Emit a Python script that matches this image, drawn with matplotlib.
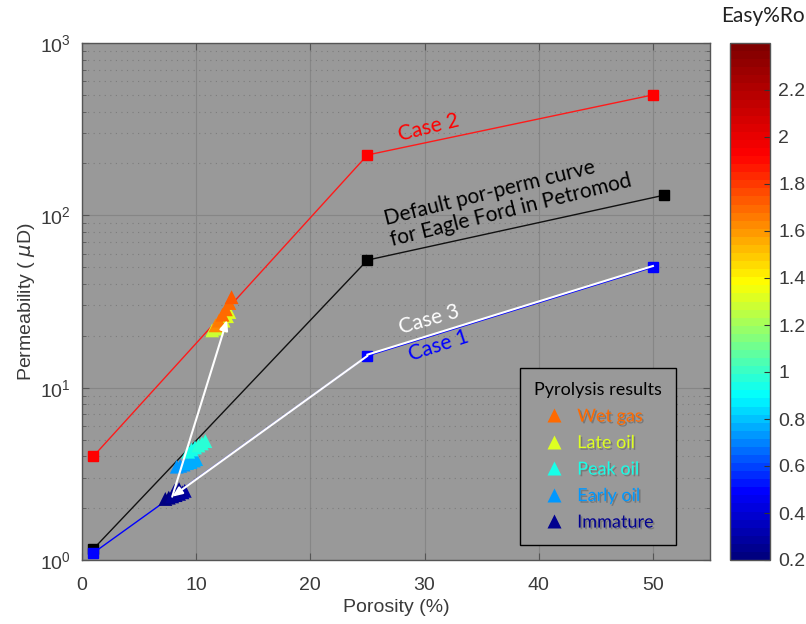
import matplotlib
matplotlib.use("Agg")
import matplotlib.pyplot as plt
import matplotlib.patheffects as pe
import numpy as np
from matplotlib.colors import LinearSegmentedColormap, Normalize
from matplotlib.lines import Line2D
from matplotlib.ticker import LogLocator, NullFormatter
from matplotlib import cm
from matplotlib.transforms import offset_copy

# por-perm curves (porosity %, permeability uD)
CASE2_X = [1, 25, 50]
CASE2_Y = [4.0, 224, 500]
DEFAULT_X = [1, 25, 51]
DEFAULT_Y = [1.16, 55, 131]
CASE1_X = [1, 25, 50]
CASE1_Y = [1.1, 15.3, 50]

# case 3 path: along case 1 down to immature, then up to wet gas
CASE3_X = [50, 25, 7.9, 12.7]
CASE3_Y = [50, 15.3, 2.33, 24.7]

# pyrolysis results (porosity, permeability, Easy%Ro)
IMM_X = [7.3, 7.6, 7.9, 8.2, 8.5, 8.8, 9.0, 8.1, 8.5]
IMM_Y = [2.26, 2.3, 2.34, 2.38, 2.42, 2.47, 2.52, 2.52, 2.58]
IMM_RO = [0.22, 0.23, 0.24, 0.25, 0.26, 0.27, 0.27, 0.25, 0.26]

EARLY_X = [8.3, 8.6, 8.9, 9.2, 9.5, 9.8, 10.0]
EARLY_Y = [3.48, 3.52, 3.58, 3.65, 3.7, 3.78, 3.85]
EARLY_RO = [0.72, 0.73, 0.74, 0.75, 0.76, 0.77, 0.77]

PEAK_X = [9.3, 9.6, 9.9, 10.2, 10.5, 10.8]
PEAK_Y = [4.25, 4.38, 4.5, 4.62, 4.75, 4.9]
PEAK_RO = [0.93, 0.94, 0.95, 0.96, 0.97, 0.97]

LATE_X = [11.4, 11.8, 12.1, 12.4, 12.7, 12.9]
LATE_Y = [21.5, 22.0, 23.0, 24.5, 26.0, 27.5]
LATE_RO = [1.28, 1.29, 1.30, 1.31, 1.32, 1.33]

WET_X = [11.7, 12.0, 12.3, 12.6, 12.9, 13.1]
WET_Y = [23.0, 24.5, 26.5, 28.5, 31.0, 33.5]
WET_RO = [1.64, 1.66, 1.68, 1.69, 1.70, 1.72]

STAGE_NAMES = ["Wet gas", "Late oil", "Peak oil", "Early oil", "Immature"]
STAGE_RO = [1.68, 1.32, 0.95, 0.74, 0.25]

CBAR_TICKS = [0.2, 0.4, 0.6, 0.8, 1.0, 1.2, 1.4, 1.6, 1.8, 2.0, 2.2]
CBAR_LABELS = ["0.2", "0.4", "0.6", "0.8", "1", "1.2", "1.4", "1.6", "1.8", "2", "2.2"]
X_TICKS = [0, 10, 20, 30, 40, 50]

RO_MIN, RO_MAX = 0.2, 2.4

SANS = ["Liberation Sans", "DejaVu Sans"]
CAL = ["Lato", "DejaVu Sans"]
TICK_COLOR = "#3a3a3a"

anchors = [0.2, 0.48, 0.89, 1.38, 1.93, 2.4]
anchor_cols = [(0, 0, 0.5), (0, 0, 1), (0, 1, 1), (1, 1, 0), (1, 0, 0), (0.5, 0, 0)]
cmap = LinearSegmentedColormap.from_list(
    "easyro",
    [((a - RO_MIN) / (RO_MAX - RO_MIN), c) for a, c in zip(anchors, anchor_cols)],
    N=64,
)
norm = Normalize(RO_MIN, RO_MAX)

fig = plt.figure(figsize=(8.06, 6.24), dpi=100)
ax = fig.add_axes([82 / 806, 64 / 624, 628 / 806, 517 / 624])
cax = fig.add_axes([730 / 806, 64 / 624, 40 / 806, 517 / 624])

ax.set_facecolor("#999999")
ax.set_yscale("log")
ax.set_xlim(0, 55)
ax.set_ylim(1, 1000)

# grid
ax.grid(True, which="major", color="#868686", lw=0.8, ls="-")
ax.yaxis.set_minor_locator(LogLocator(base=10, subs=np.arange(2, 10)))
ax.yaxis.set_minor_formatter(NullFormatter())
ax.grid(True, which="minor", axis="y", color="#7c7c7c", lw=0.8, ls=(0, (1, 4)))
ax.set_axisbelow(True)

for s in ax.spines.values():
    s.set_color("#555555")
    s.set_linewidth(1)

ax.set_xticks(X_TICKS)
ax.tick_params(which="both", direction="in", top=True, right=True,
               colors="#555555", labelcolor=TICK_COLOR, labelsize=14)
ax.tick_params(which="major", length=5)
ax.tick_params(which="minor", length=3)
ax.tick_params(axis="x", pad=12)
ax.tick_params(axis="y", pad=8)
for lbl in ax.get_xticklabels() + ax.get_yticklabels():
    lbl.set_family(SANS)

ax.set_xlabel("Porosity (%)", fontsize=14, color=TICK_COLOR, family=SANS, labelpad=4)
ax.set_ylabel("Permeability ( $\\mu$D)", fontsize=14, color=TICK_COLOR, family=SANS, labelpad=2)

# curves
ax.plot(CASE2_X, CASE2_Y, color="#ff1a1a", lw=1, marker="s", ms=7, mfc="red", mec="red", zorder=3)
ax.plot(DEFAULT_X, DEFAULT_Y, color="#111111", lw=1, marker="s", ms=7, mfc="black", mec="black", zorder=3)
ax.plot(CASE1_X, CASE1_Y, color="#0000ff", lw=1, marker="s", ms=7, mfc="blue", mec="blue", zorder=3)

# case 3 (white) path with arrows, slightly above case 1
up = offset_copy(ax.transData, fig=fig, x=0, y=1.2, units="dots")
ax.plot(CASE3_X[:2], CASE3_Y[:2], color="white", lw=1.5, transform=up, zorder=4)
arrow_kw = dict(arrowstyle="-|>,head_length=0.6,head_width=0.25", color="white", lw=1.5,
                shrinkA=0, shrinkB=0)
ax.annotate("", xy=(CASE3_X[2], CASE3_Y[2]), xytext=(CASE3_X[1], CASE3_Y[1]),
            arrowprops=arrow_kw, zorder=6)
ax.annotate("", xy=(CASE3_X[3], CASE3_Y[3]), xytext=(CASE3_X[2], CASE3_Y[2]),
            arrowprops=arrow_kw, zorder=6)

# pyrolysis triangles
for xs, ys, ro in [(IMM_X, IMM_Y, IMM_RO), (EARLY_X, EARLY_Y, EARLY_RO),
                   (PEAK_X, PEAK_Y, PEAK_RO), (LATE_X, LATE_Y, LATE_RO),
                   (WET_X, WET_Y, WET_RO)]:
    ax.scatter(xs, ys, c=ro, cmap=cmap, norm=norm, marker="^", s=100,
               edgecolors="none", zorder=5)

# labels on curves
ax.text(30.4, 321, "Case 2", color="red", fontsize=15, family=CAL,
        rotation=14, ha="center", va="center")
ax.text(37.3, 123, "Default por-perm curve\nfor Eagle Ford in Petromod", color="black",
        fontsize=15, family=CAL, rotation=14, ha="center", va="center",
        multialignment="left", linespacing=1.15)
ax.text(30.4, 24.7, "Case 3", color="white", fontsize=15, family=CAL,
        rotation=16, ha="center", va="center")
ax.text(31.2, 17.5, "Case 1", color="blue", fontsize=15, family=CAL,
        rotation=18, ha="center", va="center")

# legend
handles = [Line2D([], [], ls="none", marker="^", ms=10, mfc=cmap(norm(r)), mec="none")
           for r in STAGE_RO]
leg = ax.legend(handles, STAGE_NAMES, title="Pyrolysis results", loc="lower left",
                bbox_to_anchor=(0.697, 0.029), frameon=True, fancybox=False,
                facecolor="#999999", edgecolor="black", framealpha=1,
                prop={"family": CAL, "size": 13}, title_fontproperties={"family": CAL, "size": 13},
                handletextpad=0.7, labelspacing=0.58, borderpad=0.8, handlelength=1.2,
                borderaxespad=0)
leg.get_frame().set_linewidth(1)
shadow = [pe.SimplePatchShadow(offset=(1.2, -1.2), shadow_rgbFace="#505050", alpha=0.45), pe.Normal()]
for txt, r in zip(leg.get_texts(), STAGE_RO):
    txt.set_color(cmap(norm(r)))
    txt.set_path_effects(shadow)

# colorbar
sm = cm.ScalarMappable(norm=norm, cmap=cmap)
cb = fig.colorbar(sm, cax=cax, ticks=CBAR_TICKS)
cb.ax.set_yticklabels(CBAR_LABELS)
cb.ax.tick_params(direction="in", length=4, colors="#333333", labelcolor=TICK_COLOR,
                  labelsize=14, pad=6)
for lbl in cb.ax.get_yticklabels():
    lbl.set_family(SANS)
cb.outline.set_edgecolor("#555555")
cb.outline.set_linewidth(1)
fig.text(763 / 806, 1 - 16 / 624, "Easy%Ro", fontsize=15, family=CAL, color="#222222",
         ha="center", va="center")

fig.savefig("out.png", dpi=100)
